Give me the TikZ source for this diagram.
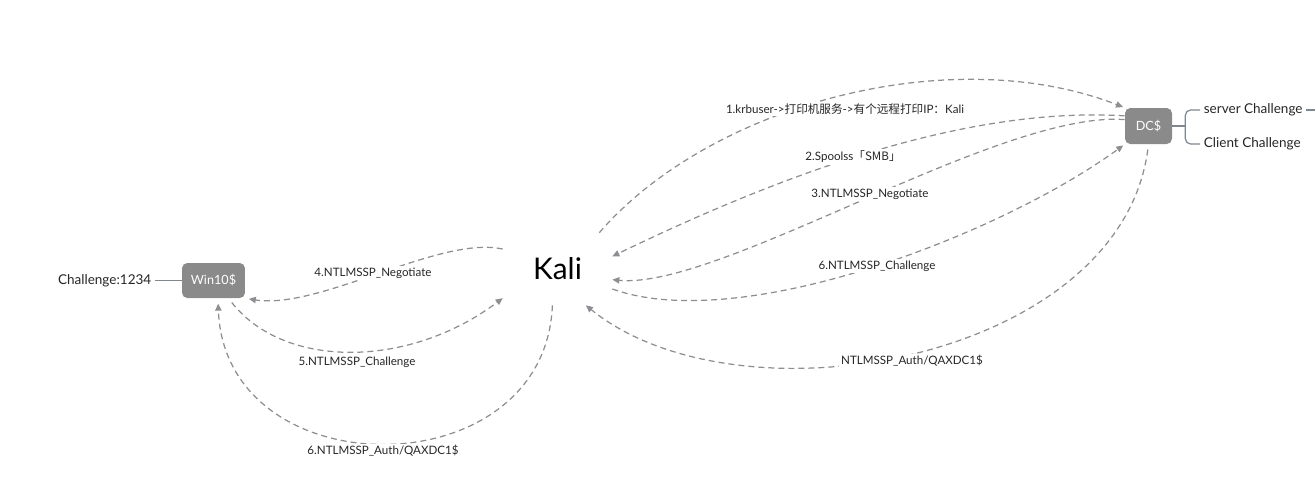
\documentclass[tikz,border=0pt]{standalone}
\usepackage{fontspec}
\setmainfont{Lato}
\setsansfont{Lato}
\newfontfamily\cjk{Noto Sans CJK SC}
\usepackage{tikz}
\usetikzlibrary{positioning, arrows.meta}
\definecolor{hostgray}{HTML}{8A8A8A}
\definecolor{flowgray}{HTML}{8E8E92}
\definecolor{branchgray}{HTML}{7F8790}

\begin{document}
\begin{tikzpicture}[
  x=0.02cm, y=-0.02cm,
  font=\sffamily\fontsize{6.6}{8}\selectfont,
  host/.style={fill=hostgray, rounded corners=3pt, text=white, align=center,
    font=\sffamily\fontsize{7.2}{8}\selectfont},
  flow/.style={draw=flowgray, line width=0.7pt, dash pattern=on 3.4pt off 2.3pt,
    -{Triangle[length=4pt, width=3.6pt]}},
  lbl/.style={fill=white, inner sep=1pt, text=black!85},
  side/.style={font=\sffamily\fontsize{7.7}{9}\selectfont, inner sep=2pt, text=black!85},
  branch/.style={draw=branchgray, line width=0.7pt},
]
  \useasboundingbox (0,0) rectangle (1315,495);

  \node[font=\sffamily\fontsize{17}{20}\selectfont,
        minimum width=2.18cm, minimum height=1.44cm] (kali) at (557.5,269) {Kali};
  \node[host, minimum width=1.26cm, minimum height=0.7cm] (win) at (213.5,280.5) {Win10\$};
  \node[host, minimum width=0.94cm, minimum height=0.72cm] (dc) at (1148.5,126) {DC\$};

  \node[side, left=0.53cm of win] (chal) {Challenge:1234};
  \node[side, anchor=west] (sc) at (1200,110) {server Challenge};
  \node[side, anchor=west] (cc) at (1200,144) {Client Challenge};
  \coordinate (edge) at (1315,110);

  \draw[branch] (chal) -- (win);
  \draw[branch] (dc.east) -- ++(13,0) coordinate (fork);
  \draw[branch, rounded corners=3pt] (sc.west) -| (fork) |- (cc.west);
  \draw[branch] (sc.east) -- (edge);

  % Kali <-> DC
  \draw[flow, shorten >=1pt] (kali.41.6) .. controls (710,105) and (950,40) .. (dc.north west);
  \draw[flow] (dc.157) .. controls (950,105) and (750,190) .. (kali.13.4);
  \draw[flow] (dc.165) .. controls (1000,110) and (720,290) .. (kali.-11.4);
  \draw[flow, shorten >=1pt] (kali.-20) .. controls (740,335) and (1000,235) .. (dc.south west);
  \draw[flow, shorten <=3pt] (dc.south) .. controls (1120,360) and (740,430) .. (kali.-52.6);

  % Kali <-> Win10
  \draw[flow, shorten >=2pt] (kali.160.8) .. controls (440,235) and (320,310) .. (win.south east);
  \draw[flow, shorten <=3pt] (win.-50) .. controls (285,370) and (410,368) .. (kali.208);
  \draw[flow, shorten >=3pt] (kali.-98.7) .. controls (545,490) and (225,490) .. (win.-76);

  \node[lbl] (m1) at (845,109) {1.krbuser->{\cjk 打印机服务}->{\cjk 有个远程打印}IP{\cjk ：}Kali};
  \node[lbl] (m2) at (853,157) {2.Spoolss{\cjk 「SMB」}};
  \node[lbl] (m3) at (870,194) {3.NTLMSSP\_Negotiate};
  \node[lbl] (m4) at (877,266) {6.NTLMSSP\_Challenge};
  \node[lbl] (m5) at (912,361) {NTLMSSP\_Auth/QAXDC1\$};
  \node[lbl] (m6) at (373,273) {4.NTLMSSP\_Negotiate};
  \node[lbl] (m7) at (357,362) {5.NTLMSSP\_Challenge};
  \node[lbl] (m8) at (383,451) {6.NTLMSSP\_Auth/QAXDC1\$};
\end{tikzpicture}
\end{document}
